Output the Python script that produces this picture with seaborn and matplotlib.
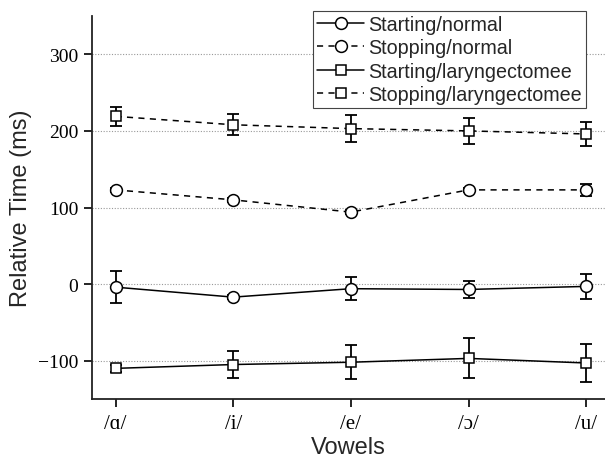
import matplotlib
matplotlib.use("Agg")
import matplotlib.pyplot as plt
import seaborn as sns
import numpy as np
import pandas as pd

vowels = ["/ɑ/", "/i/", "/e/", "/ɔ/", "/u/"]
series_names = ["Starting/normal", "Stopping/normal",
                "Starting/laryngectomee", "Stopping/laryngectomee"]
start_normal = [-4, -17, -6, -7, -3]
start_normal_err = [21, 3, 15, 11, 16]
stop_normal = [123, 110, 94, 123, 123]
stop_normal_err = [3, 3, 3, 3, 8]
start_lar = [-110, -105, -102, -97, -103]
start_lar_err = [5, 18, 22, 26, 25]
stop_lar = [219, 208, 203, 200, 196]
stop_lar_err = [12, 14, 18, 17, 16]

values = [start_normal, stop_normal, start_lar, stop_lar]
errors = [start_normal_err, stop_normal_err, start_lar_err, stop_lar_err]
markers = ["o", "o", "s", "s"]
msizes = [8.5, 8.5, 7.5, 7.5]
styles = ["-", (0, (4, 3.5)), "-", (0, (4, 3.5))]

sns.set_theme(style="ticks")
plt.rcParams['font.family'] = ['Liberation Sans', 'DejaVu Sans']

fig = plt.figure(figsize=(6.05, 4.6), dpi=100)
ax = fig.add_axes([92/605, 60/460, 513/605, 383/460])

xpos = np.arange(len(vowels))
for name, v, e, m, ms, ls in zip(series_names, values, errors, markers, msizes, styles):
    df = pd.DataFrame({"x": xpos, "y": v})
    ax.errorbar(xpos, v, yerr=e, fmt="none", ecolor="black", elinewidth=1.3,
                capsize=4.5, capthick=1.3, zorder=2)
    sns.lineplot(data=df, x="x", y="y", ax=ax, color="black", linestyle=ls,
                 linewidth=1.1, marker=m, markersize=ms, markerfacecolor="white",
                 markeredgecolor="black", markeredgewidth=1.1, label=name, zorder=3)

ax.set_xlim(-0.2, 4.16)
ax.set_ylim(-150, 350)
ax.set_xticks(xpos)
ax.set_xticklabels(vowels, family=['Liberation Serif', 'DejaVu Serif'], fontsize=15)
ax.set_yticks([-100, 0, 100, 200, 300])
ax.set_yticklabels(["−100", "0", "100", "200", "300"],
                   family=['Liberation Serif', 'DejaVu Serif'], fontsize=14)
ax.yaxis.grid(True, linestyle=(0, (1, 1.5)), color="#999999", linewidth=0.8)
ax.set_axisbelow(True)
ax.tick_params(axis="both", direction="out", length=6, width=1.2, color="black",
               labelcolor="black", pad=4)
ax.tick_params(axis="x", pad=5)
for s in ["top", "right"]:
    ax.spines[s].set_visible(False)
for s in ["left", "bottom"]:
    ax.spines[s].set_color("#222222")
    ax.spines[s].set_linewidth(1.3)

ax.set_xlabel("Vowels", fontsize=17, labelpad=2)
ax.set_ylabel("Relative Time (ms)", fontsize=17, labelpad=4)

leg = ax.legend(loc="upper right", bbox_to_anchor=(494/513, (400-12)/383),
                fontsize=14.2, handlelength=2.4, handletextpad=0.2, labelspacing=0.22,
                borderpad=0.2, borderaxespad=0, frameon=True, fancybox=False)
leg.get_frame().set_edgecolor("#444444")
leg.get_frame().set_linewidth(0.8)
leg.get_frame().set_alpha(1)

fig.savefig("out.png", dpi=100)
